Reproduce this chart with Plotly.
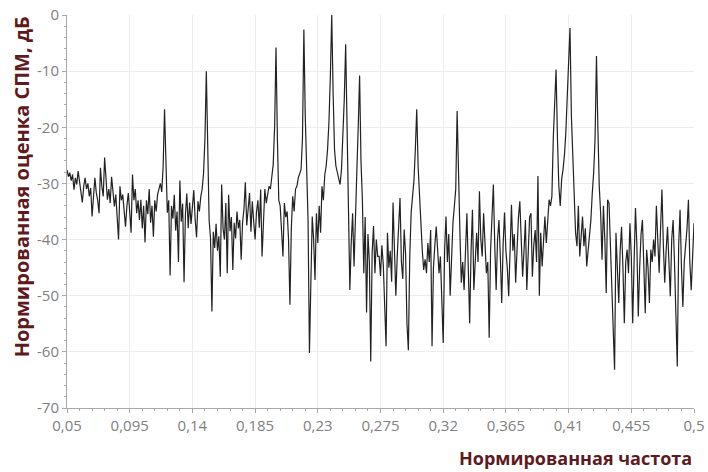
import plotly.graph_objects as go

# Normalised frequency grid (start / step) and PSD estimate in dB
freq_start = 0.05
freq_step = 0.001
psd_db = [
    -27.6, -28.8, -28.1, -29.5, -28.4, -31.1, -29.0, -30.2, -27.8, -29.6,
    -31.0, -33.4, -30.5, -29.0, -31.0, -30.0, -32.3, -30.8, -35.9, -31.5,
    -29.0, -31.6, -33.0, -35.3, -27.2, -30.5, -32.3, -25.4, -30.0, -32.9,
    -31.0, -33.5, -28.8, -31.5, -34.1, -32.0, -36.0, -40.0, -30.5, -33.0,
    -32.0, -35.0, -37.7, -34.0, -31.7, -35.0, -38.8, -28.4, -33.0, -31.0,
    -35.3, -33.0, -36.5, -32.9, -38.0, -34.0, -40.5, -33.0, -35.5, -31.0,
    -37.0, -34.0, -39.5, -33.0, -35.0, -32.0, -31.0, -30.0, -31.5, -27.0,
    -16.8, -29.0, -35.2, -33.0, -46.4, -34.0, -36.3, -32.0, -38.4, -35.0,
    -44.0, -29.5, -36.8, -33.6, -47.6, -35.5, -31.8, -38.0, -33.4, -37.2,
    -34.0, -31.2, -36.5, -39.6, -33.2, -35.0, -32.4, -31.0, -28.2, -22.0,
    -10.0, -25.0, -36.5, -39.8, -52.8, -38.6, -41.5, -37.2, -42.0, -39.4,
    -46.6, -30.2, -38.0, -40.0, -33.5, -46.0, -32.0, -38.5, -36.0, -45.4,
    -37.0, -39.8, -35.0, -38.0, -36.5, -43.6, -37.0, -34.6, -29.8, -37.5,
    -34.0, -31.7, -38.6, -33.2, -36.8, -40.0, -35.1, -33.0, -37.9, -31.1,
    -43.0, -35.0, -31.0, -33.5, -32.3, -30.5, -31.0, -28.0, -26.6, -20.0,
    -5.8, -22.0, -33.0, -34.0, -38.0, -43.0, -33.5, -36.0, -35.0, -40.0,
    -51.6, -38.0, -32.3, -35.0, -31.0, -30.5, -29.0, -28.0, -27.5, -22.0,
    -2.6, -18.0, -30.5, -36.5, -60.2, -49.5, -35.9, -40.0, -47.2, -35.3,
    -40.6, -34.0, -38.8, -30.5, -33.0, -28.5, -26.9, -24.0, -19.0, -11.0,
    0.0, -14.0, -24.0, -26.9, -28.0, -29.5, -30.2, -27.5, -22.0, -15.0,
    -5.2, -20.0, -36.0, -49.0, -40.5, -35.3, -44.8, -34.0, -28.0, -20.0,
    -10.8, -26.0, -32.9, -46.0, -36.0, -53.0, -39.0, -44.0, -61.7, -42.4,
    -37.6, -46.0, -40.0, -43.0, -43.0, -46.5, -41.0, -44.5, -52.0, -59.0,
    -38.8, -45.0, -42.0, -47.5, -33.4, -41.0, -50.0, -43.0, -38.0, -32.6,
    -44.0, -47.0, -38.2, -42.5, -55.0, -59.7, -43.0, -35.2, -32.3, -29.5,
    -24.0, -16.8, -27.0, -32.3, -39.5, -42.0, -45.4, -43.5, -46.0, -40.6,
    -44.0, -38.3, -59.0, -45.0, -41.0, -37.7, -41.8, -46.0, -43.0, -51.0,
    -58.4, -42.0, -35.9, -44.0, -39.0, -50.0, -42.0, -37.0, -34.1, -31.0,
    -17.1, -30.0, -38.8, -47.7, -44.0, -49.0, -40.0, -35.3, -45.0, -54.9,
    -42.0, -34.7, -49.0, -42.0, -38.8, -44.0, -31.4, -40.0, -43.0, -35.3,
    -41.0, -46.0, -44.0, -57.5, -42.0, -36.0, -30.2, -41.0, -49.0, -40.0,
    -36.5, -43.0, -51.3, -41.0, -35.2, -42.0, -45.0, -50.1, -40.0, -33.8,
    -42.0, -39.0, -47.7, -41.0, -36.0, -33.2, -40.0, -46.6, -42.0, -36.5,
    -49.0, -41.0, -36.0, -35.3, -46.6, -41.0, -38.3, -44.0, -28.7, -50.0,
    -38.8, -44.8, -40.0, -35.9, -40.6, -37.0, -32.9, -34.0, -32.3, -22.0,
    -14.0, -9.7, -22.0, -30.5, -34.0, -29.3, -27.5, -25.0, -21.0, -15.0,
    -8.0, -2.3, -18.0, -25.7, -32.9, -38.8, -41.2, -34.0, -43.0, -39.0,
    -35.9, -41.2, -38.0, -44.8, -42.0, -40.0, -36.5, -31.7, -28.0, -22.0,
    -7.3, -20.0, -30.5, -35.3, -43.6, -34.0, -40.0, -49.5, -32.9, -33.5,
    -40.6, -46.0, -55.0, -63.2, -38.8, -44.0, -51.3, -42.0, -37.7, -45.0,
    -54.9, -44.0, -41.8, -46.0, -37.1, -43.0, -54.9, -44.0, -34.4, -41.0,
    -53.7, -45.0, -39.0, -36.5, -46.0, -53.1, -41.8, -45.0, -51.3, -41.8,
    -44.0, -40.0, -43.0, -34.0, -40.0, -45.9, -38.0, -31.1, -41.0, -47.7,
    -42.0, -37.7, -44.0, -50.1, -40.0, -36.5, -44.0, -52.0, -62.6, -41.0,
    -34.7, -45.0, -52.0, -44.0, -41.2, -38.0, -32.9, -44.0, -49.0, -41.0,
    -37.1,
]
freqs = [round(freq_start + i * freq_step, 4) for i in range(len(psd_db))]

x_tick_vals = [0.05, 0.095, 0.14, 0.185, 0.23, 0.275, 0.32, 0.365, 0.41, 0.455, 0.5]
x_tick_text = ["0,05", "0,095", "0,14", "0,185", "0,23", "0,275", "0,32", "0,365", "0,41", "0,455", "0,5"]
y_tick_vals = [0, -10, -20, -30, -40, -50, -60, -70]
y_tick_text = ["0", "-10", "-20", "-30", "-40", "-50", "-60", "-70"]

x_title = "Нормированная частота"
y_title = "Нормированная оценка СПМ, дБ"

TITLE_COLOR = "#5e1a1c"
TICK_COLOR = "#808080"
AXIS_COLOR = "#a8a8a8"
GRID_COLOR = "#ededed"
FONT = "Open Sans, DejaVu Sans, sans-serif"

fig = go.Figure(
    go.Scatter(
        x=freqs, y=psd_db, mode="lines",
        line=dict(color="#222222", width=1.2),
        hoverinfo="skip",
    )
)

axis_common = dict(
    showgrid=True, gridcolor=GRID_COLOR, gridwidth=1,
    showline=True, linecolor=AXIS_COLOR, linewidth=1,
    ticks="outside", ticklen=4, tickcolor=AXIS_COLOR,
    tickfont=dict(family=FONT, size=15, color=TICK_COLOR),
    zeroline=False, automargin=False,
)

fig.update_layout(
    width=708, height=472,
    margin=dict(l=67, r=14, t=15, b=64),
    paper_bgcolor="white", plot_bgcolor="white",
    showlegend=False,
    xaxis=dict(
        range=[0.05, 0.5], tickmode="array",
        tickvals=x_tick_vals, ticktext=x_tick_text,
        minor=dict(ticks="outside", ticklen=2, tickcolor=AXIS_COLOR,
                   tickmode="linear", tick0=0.05, dtick=0.009, showgrid=False),
        **axis_common,
    ),
    yaxis=dict(
        range=[-70, 0], tickmode="array",
        tickvals=y_tick_vals, ticktext=y_tick_text,
        minor=dict(ticks="outside", ticklen=2, tickcolor=AXIS_COLOR,
                   tickmode="linear", tick0=0, dtick=2, showgrid=False),
        **axis_common,
    ),
    annotations=[
        dict(
            text=f"<b>{y_title}</b>", xref="paper", yref="paper",
            x=-0.073, y=0.562, xanchor="center", yanchor="middle",
            textangle=-90, showarrow=False,
            font=dict(family=FONT, size=20, color=TITLE_COLOR),
        ),
        dict(
            text=f"<b>{x_title}</b>", xref="paper", yref="paper",
            x=1.0, y=-0.127, xanchor="right", yanchor="middle",
            showarrow=False,
            font=dict(family=FONT, size=18, color=TITLE_COLOR),
        ),
    ],
)

# Remove the browser's default 8 px body margin so the figure fills the window
fig.write_html(
    "out.html",
    config={"displayModeBar": False},
    post_script="document.body.style.margin='0';document.body.style.overflow='hidden';",
)
